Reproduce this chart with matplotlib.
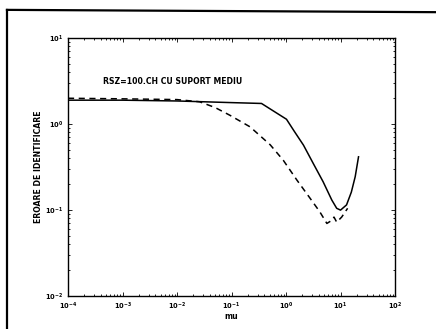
import matplotlib
matplotlib.use('Agg')
import matplotlib.pyplot as plt
from matplotlib.lines import Line2D

# solid curve
mu_solid = [1e-4, 1e-3, 1e-2, 0.1, 0.355, 1.02, 1.41, 2.09, 3.16, 4.79, 6.92, 8.51, 10.0, 12.9, 15.8, 18.6, 21.4]
err_solid = [1.9, 1.9, 1.86, 1.78, 1.74, 1.14, 0.83, 0.57, 0.349, 0.214, 0.131, 0.105, 0.1, 0.115, 0.162, 0.245, 0.417]

# dashed curve
mu_dash = [1e-4, 1e-3, 1e-2, 0.026, 0.05, 0.093, 0.219, 0.513, 0.891, 1.58, 2.75, 4.17, 5.62, 6.92, 7.59, 8.51, 10.5, 13.5]
err_dash = [2.0, 1.97, 1.93, 1.82, 1.56, 1.27, 0.93, 0.575, 0.38, 0.224, 0.138, 0.0955, 0.07, 0.076, 0.083, 0.0724, 0.083, 0.105]

xticks = [1e-4, 1e-3, 1e-2, 1e-1, 1e0, 1e1, 1e2]
xlabels = ['10$^{-4}$', '10$^{-3}$', '10$^{-2}$', '10$^{-1}$', '10$^{0}$', '10$^{1}$', '10$^{2}$']
yticks = [1e-2, 1e-1, 1e0, 1e1]
ylabels = ['10$^{-2}$', '10$^{-1}$', '10$^{0}$', '10$^{1}$']

plt.rcParams['font.family'] = ['DejaVu Sans']
plt.rcParams['font.weight'] = 'bold'
plt.rcParams['mathtext.default'] = 'bf'

fig = plt.figure(figsize=(4.36, 3.29), dpi=100)
ax = fig.add_axes([0.156, 0.100, 0.750, 0.784])

ax.plot(mu_solid, err_solid, color='black', lw=1.1)
ax.plot(mu_dash, err_dash, color='black', lw=1.1, ls=(0, (4, 3)))

ax.set_xscale('log')
ax.set_yscale('log')
ax.set_xlim(1e-4, 1e2)
ax.set_ylim(1e-2, 1e1)
ax.set_xticks(xticks)
ax.set_xticklabels(xlabels)
ax.set_yticks(yticks)
ax.set_yticklabels(ylabels)
ax.tick_params(which='both', direction='in', top=True, right=True, labelsize=4.8, width=0.6)
ax.tick_params(which='major', length=3)
ax.tick_params(which='minor', length=1.5)
for s in ax.spines.values():
    s.set_linewidth(1.0)

ax.set_xlabel('mu', fontsize=5.6, fontweight='bold', labelpad=0)
ax.set_ylabel('EROARE DE IDENTIFICARE', fontsize=5.6, fontweight='bold')
ax.yaxis.set_label_coords(-0.078, 0.5)
ax.text(4.4e-4, 3.1, 'RSZ=100.CH CU SUPORT MEDIU', fontsize=5.6, fontweight='bold', va='center')

# scanned page border (left and top)
fig.add_artist(Line2D([0.016, 0.016], [0.0, 0.97], color='black', lw=1.6, transform=fig.transFigure))
fig.add_artist(Line2D([0.016, 1.0], [0.97, 0.963], color='black', lw=1.6, transform=fig.transFigure))

fig.savefig('out.png', dpi=100)
